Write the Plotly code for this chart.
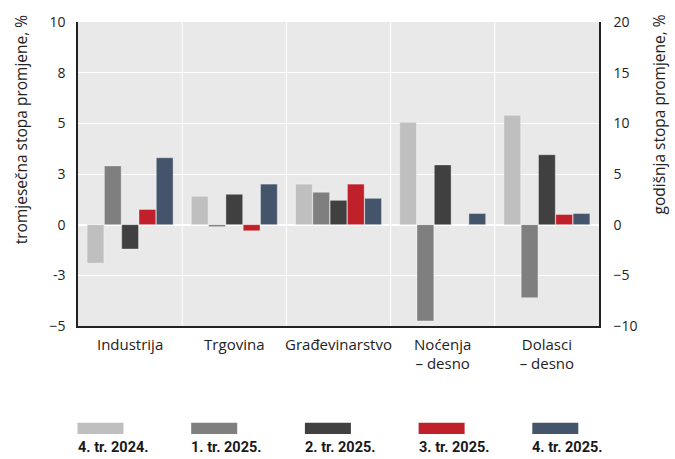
import plotly.graph_objects as go

categories = ["Industrija", "Trgovina", "Građevinarstvo", "Noćenja<br>– desno", "Dolasci<br>– desno"]
left_categories = categories[:3]
right_categories = categories[3:]

series_names = ["4. tr. 2024.", "1. tr. 2025.", "2. tr. 2025.", "3. tr. 2025.", "4. tr. 2025."]
series_colors = ["#bfbfbf", "#7f7f7f", "#404040", "#c0202a", "#44546a"]

# left axis (quarterly rate, %): Industrija, Trgovina, Građevinarstvo
left_q4_2024 = [-1.9, 1.4, 2.0]
left_q1_2025 = [2.9, -0.1, 1.6]
left_q2_2025 = [-1.2, 1.5, 1.2]
left_q3_2025 = [0.75, -0.3, 2.0]
left_q4_2025 = [3.3, 2.0, 1.3]

# right axis (annual rate, %): Noćenja, Dolasci
right_q4_2024 = [10.1, 10.8]
right_q1_2025 = [-9.5, -7.2]
right_q2_2025 = [5.9, 6.9]
right_q3_2025 = [None, 1.0]
right_q4_2025 = [1.1, 1.1]

left_series = [left_q4_2024, left_q1_2025, left_q2_2025, left_q3_2025, left_q4_2025]
right_series = [right_q4_2024, right_q1_2025, right_q2_2025, right_q3_2025, right_q4_2025]

left_tickvals = [-5, -2.5, 0, 2.5, 5, 7.5, 10]
left_ticktext = ["−5", "-3", "0", "3", "5", "8", "10"]
right_tickvals = [-10, -5, 0, 5, 10, 15, 20]
right_ticktext = ["−10", "−5", "0", "5", "10", "15", "20"]

left_title = "tromjesečna stopa promjene, %"
right_title = "godišnja stopa promjene, %"

FONT = "Open Sans"
LEGEND_FONT = "Liberation Sans Narrow, Roboto, sans-serif"
fig = go.Figure()

for i, name in enumerate(series_names):
    fig.add_trace(go.Bar(
        x=left_categories, y=left_series[i], name=name, yaxis="y",
        marker=dict(color=series_colors[i], line=dict(color="rgba(255,255,255,0.35)", width=1)),
        offsetgroup=str(i), showlegend=False,
    ))
for i, name in enumerate(series_names):
    fig.add_trace(go.Bar(
        x=right_categories, y=right_series[i], name=name, yaxis="y2",
        marker=dict(color=series_colors[i], line=dict(color="rgba(255,255,255,0.35)", width=1)),
        offsetgroup=str(i), showlegend=False,
    ))

# vertical separators between categories
for k in range(1, len(categories)):
    fig.add_shape(type="line", xref="x", yref="paper", x0=k - 0.5, x1=k - 0.5, y0=0, y1=1,
                  line=dict(color="white", width=1), layer="below")

W, H = 675, 459
ML, MR, MT, MB = 78, 76, 17, 133
PW, PH = W - ML - MR, H - MT - MB
legend_x0 = 77.5
legend_step = 113.7


def px_x(px):
    return (px - ML) / PW


def px_y(py):
    return (H - MB - py) / PH


# manual legend (swatch above label)
for i, name in enumerate(series_names):
    x0 = legend_x0 + i * legend_step
    fig.add_shape(type="rect", xref="paper", yref="paper",
                  x0=px_x(x0), x1=px_x(x0 + 46), y0=px_y(435.7), y1=px_y(424.3),
                  fillcolor=series_colors[i], line=dict(width=0))
    fig.add_annotation(xref="paper", yref="paper", x=px_x(x0 - 2), y=px_y(450),
                       text="<b>" + name + "</b>", showarrow=False, xanchor="left", yanchor="middle",
                       font=dict(family=LEGEND_FONT, size=14.5, color="#1a1a1a"))

# axis titles (top-aligned like the reference)
fig.add_annotation(xref="paper", yref="paper", x=px_x(21), y=px_y(126), text=left_title,
                   textangle=-90, showarrow=False, xanchor="center", yanchor="middle",
                   font=dict(family=FONT, size=15.5, color="#222"))
fig.add_annotation(xref="paper", yref="paper", x=px_x(659), y=px_y(111), text=right_title,
                   textangle=-90, showarrow=False, xanchor="center", yanchor="middle",
                   font=dict(family=FONT, size=15.5, color="#222"))

fig.update_layout(
    width=W, height=H,
    margin=dict(l=ML, r=MR, t=MT, b=MB),
    paper_bgcolor="white", plot_bgcolor="#e9e9e9",
    barmode="group", bargap=0.17, bargroupgap=0.03,
    font=dict(family=FONT, size=14, color="#222"),
    xaxis=dict(categoryorder="array", categoryarray=categories, showgrid=False,
               showline=True, linecolor="#222", linewidth=1.5, ticks="", tickfont=dict(size=15),
               ticklabelstandoff=4),
    yaxis=dict(range=[-5, 10], tickvals=left_tickvals, ticktext=left_ticktext,
               showgrid=True, gridcolor="white", gridwidth=1,
               zeroline=True, zerolinecolor="white", zerolinewidth=2,
               showline=True, linecolor="#222", linewidth=1.5, ticks="", tickfont=dict(size=14),
               ticklabelstandoff=8),
    yaxis2=dict(range=[-10, 20], tickvals=right_tickvals, ticktext=right_ticktext,
                overlaying="y", side="right", showgrid=False, zeroline=False,
                showline=True, linecolor="#222", linewidth=1.5, ticks="", tickfont=dict(size=14),
                ticklabelstandoff=10),
)

fig.write_html("out.html", config={"displayModeBar": False},
               post_script="document.body.style.margin='0';document.body.style.padding='0';")
